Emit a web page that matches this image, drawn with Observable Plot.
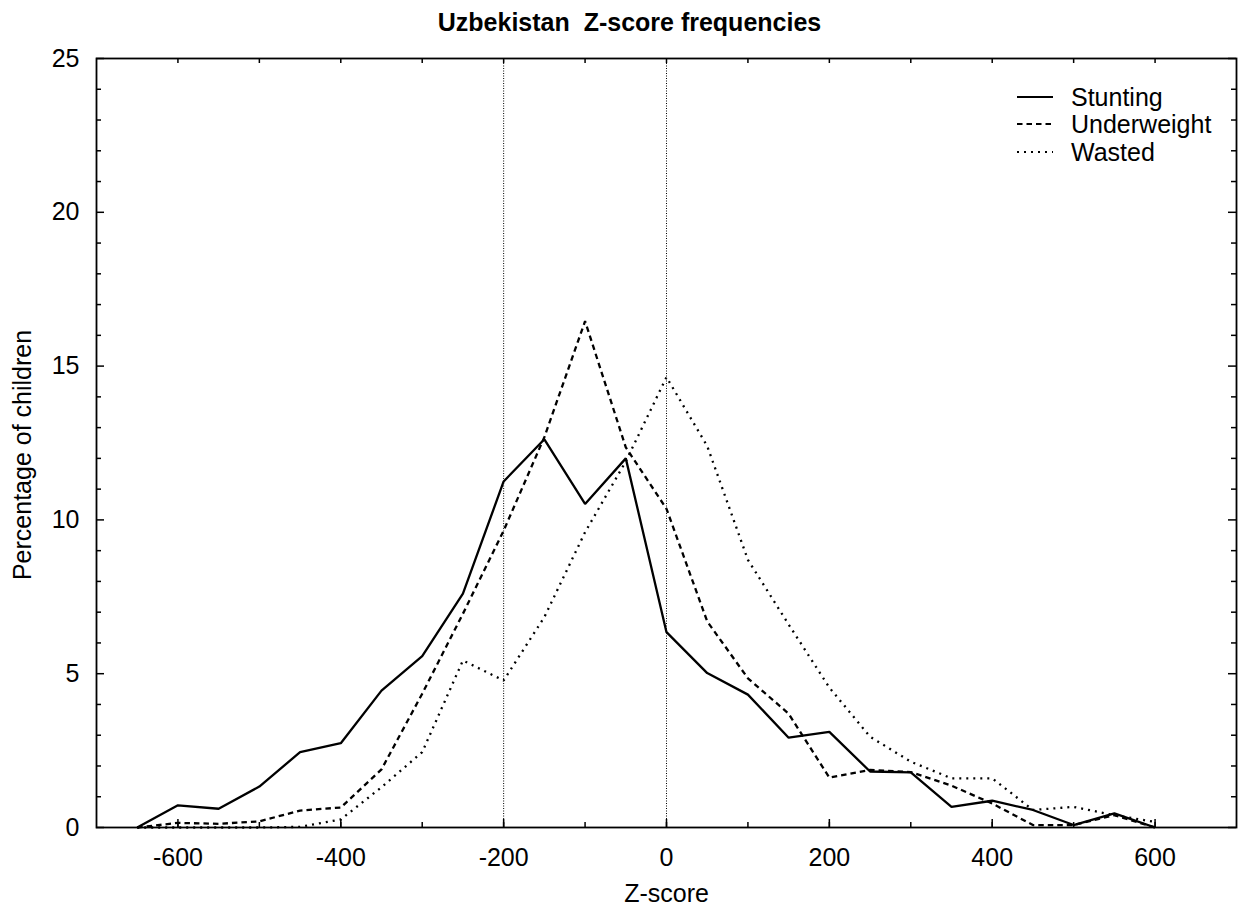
<!DOCTYPE html>
<html><head><meta charset="utf-8">
<script src="https://cdn.jsdelivr.net/npm/d3@7"></script>
<script src="https://cdn.jsdelivr.net/npm/@observablehq/plot@0.6"></script>
<style>
body{margin:0;background:#fff;font-family:"Liberation Sans",Arial,sans-serif}
#wrap{position:relative;width:1239px;height:914px}
.leg{position:absolute;left:1017px;height:28px;display:flex;align-items:center;font-size:25px;color:#000}
.leg svg{width:36px;height:6px;margin-right:18px}
</style>
</head><body><div id="wrap"></div>
<script>
const zScores = [-650,-600,-550,-500,-450,-400,-350,-300,-250,-200,-150,-100,-50,0,50,100,150,200,250,300,350,400,450,500,550,600];
const stunting = [0,0.72,0.61,1.33,2.45,2.74,4.45,5.57,7.6,11.25,12.62,10.52,12.0,6.35,5.02,4.32,2.92,3.11,1.82,1.79,0.67,0.87,0.57,0.08,0.46,0];
const underweight = [0,0.15,0.12,0.2,0.55,0.65,1.89,4.35,6.95,9.65,12.69,16.46,12.36,10.36,6.7,4.85,3.7,1.62,1.87,1.8,1.36,0.78,0.08,0.08,0.4,0];
const wasted = [0,0,0,0,0.02,0.26,1.31,2.45,5.43,4.78,6.84,9.6,11.9,14.64,12.4,8.7,6.6,4.55,2.95,2.14,1.6,1.6,0.57,0.67,0.4,0.18];
const seriesNames = ["Stunting","Underweight","Wasted"];
const xTickLabels = [-600,-400,-200,0,200,400,600];
const xMinorTicks = [-600,-500,-400,-300,-200,-100,0,100,200,300,400,500,600];
const yTickLabels = [0,5,10,15,20,25];
const yMinorTicks = [1,2,3,4,6,7,8,9,11,12,13,14,16,17,18,19,21,22,23,24];
const refLines = [-200,0];
const title = "Uzbekistan  Z-score frequencies";
const xLabel = "Z-score";
const yLabel = "Percentage of children";

const dashes = {Stunting: null, Underweight: "5.5,4", Wasted: "2,5"};
const seriesValues = {Stunting: stunting, Underweight: underweight, Wasted: wasted};
const rows = seriesNames.flatMap(s => zScores.map((z, i) => ({series: s, z, v: seriesValues[s][i]})));

const W = 1239, H = 914, mt = 58, mb = 87, ml = 96, mr = 3;
const plotH = H - mt - mb, plotW = W - ml - mr;

const chart = Plot.plot({
  width: W, height: H,
  marginTop: mt, marginBottom: mb, marginLeft: ml, marginRight: mr,
  style: {fontFamily: "'Liberation Sans', Arial, sans-serif", background: "#fff", color: "#000"},
  x: {domain: [-700, 700]},
  y: {domain: [0, 25]},
  marks: [
    Plot.ruleX(refLines, {x: d => d, stroke: "#000", strokeWidth: 1, strokeDasharray: "1,1.5"}),
    ...seriesNames.map(s => Plot.line(rows.filter(r => r.series === s), {
      x: "z", y: "v", stroke: "#000", strokeWidth: 2.3,
      strokeDasharray: dashes[s], strokeLinejoin: "miter", strokeLinecap: "butt"
    })),
    Plot.tickX(xTickLabels, {x: d => d, stroke: "#000", strokeWidth: 1.5, insetTop: plotH - 8}),
    Plot.tickX(xMinorTicks, {x: d => d, stroke: "#000", strokeWidth: 1.5, insetTop: plotH - 5}),
    Plot.tickX(xMinorTicks, {x: d => d, stroke: "#000", strokeWidth: 1.5, insetBottom: plotH - 5}),
    Plot.tickY(yTickLabels, {y: d => d, stroke: "#000", strokeWidth: 1.5, insetRight: plotW - 8}),
    Plot.tickY(yMinorTicks, {y: d => d, stroke: "#000", strokeWidth: 1.5, insetRight: plotW - 5}),
    Plot.tickY(yTickLabels, {y: d => d, stroke: "#000", strokeWidth: 1.5, insetLeft: plotW - 8}),
    Plot.tickY(yMinorTicks, {y: d => d, stroke: "#000", strokeWidth: 1.5, insetLeft: plotW - 5}),
    Plot.axisX({ticks: xTickLabels, tickSize: 0, tickPadding: 21, fontSize: 25, tickFormat: d => String(d), label: null}),
    Plot.axisY({ticks: yTickLabels, tickSize: 0, tickPadding: 17, fontSize: 25, tickFormat: d => String(d), label: null}),
    Plot.frame({stroke: "#000", strokeWidth: 1.8}),
    Plot.text([title], {frameAnchor: "top", dx: -37, dy: -36, fontSize: 25, fontWeight: "bold", lineAnchor: "middle", textAnchor: "middle"}),
    Plot.text([xLabel], {frameAnchor: "bottom", dy: 66, fontSize: 25, lineAnchor: "middle", textAnchor: "middle"}),
    Plot.text([yLabel], {frameAnchor: "left", rotate: -90, dx: -74, dy: 12, fontSize: 25, lineAnchor: "middle", textAnchor: "middle"})
  ]
});
const wrap = document.getElementById("wrap");
wrap.appendChild(chart);

const legTops = [97, 124, 152];
seriesNames.forEach((s, i) => {
  const d = document.createElement("div");
  d.className = "leg";
  d.style.top = (legTops[i] - 14) + "px";
  const da = dashes[s] ? `stroke-dasharray="${dashes[s]}"` : "";
  d.innerHTML = `<svg viewBox="0 0 36 6"><line x1="0" y1="3" x2="36" y2="3" stroke="#000" stroke-width="2.2" ${da}/></svg><span>${s}</span>`;
  wrap.appendChild(d);
});
</script>
</body></html>
